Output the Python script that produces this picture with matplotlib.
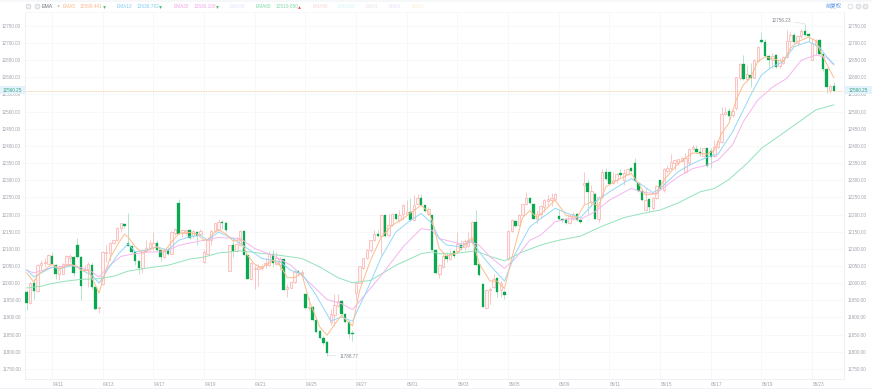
import numpy as np
import matplotlib
matplotlib.use("Agg")
import matplotlib.pyplot as plt
from matplotlib.lines import Line2D
from matplotlib.patches import Rectangle

plt.rcParams['font.family'] = ['Liberation Sans', 'Noto Sans CJK SC', 'DejaVu Sans']

W, H = 872, 389

# 4h candles
opens = [11974,11942,12000,11976,12053,12059,12057,12079,12053,12028,
         12028,12055,12072,12076,12110,12076,12037,12042,12052,11989,
         11927,11997,12088,12088,12118,12125,12162,12172,12117,12108,
         12091,12065,12044,12094,12101,12104,12117,12096,12076,12096,
         12086,12147,12234,12146,12146,12156,12137,12150,12144,12062,
         12086,12125,12152,12154,12177,12174,12036,12110,12093,12110,
         12151,12083,12013,12041,12042,12043,12052,12052,12086,12055,
         12052,12070,11983,11987,12003,12035,12028,11967,11928,11930,
         11892,11860,11841,11829,11887,11906,11932,11948,11911,11887,
         11855,11971,12000,12045,12072,12098,12125,12144,12138,12198,
         12140,12169,12201,12183,12201,12203,12208,12185,12230,12247,
         12227,12203,12198,12098,12028,12047,12079,12069,12094,12094,
         12111,12104,12108,12120,12179,12055,11997,11928,11981,11989,
         12015,11981,11975,12069,12152,12182,12169,12200,12230,12248,
         12230,12188,12201,12222,12240,12242,12244,12195,12188,12186,
         12174,12188,12201,12184,12286,12291,12237,12261,12188,12252,
         12323,12323,12291,12300,12320,12300,12317,12335,12349,12293,
         12269,12213,12245,12218,12247,12300,12271,12328,12335,12349,
         12351,12357,12325,12349,12390,12392,12382,12370,12393,12386,
         12370,12398,12412,12492,12502,12490,12510,12597,12638,12594,
         12608,12599,12649,12709,12704,12662,12650,12665,12633,12641,
         12658,12707,12724,12701,12721,12736,12725,12652,12694,12709,
         12668,12623,12563,12575]
closes = [11942,12000,11976,12053,12060,12062,12083,12055,12028,12042,
          12055,12078,12079,12030,12076,11992,12042,12055,11989,11926,
          11929,12091,12091,12118,12125,12162,12174,12166,12108,12091,
          12064,12045,12096,12101,12118,12118,12098,12076,12096,12086,
          12149,12159,12144,12156,12154,12132,12152,12138,12152,12091,
          12125,12152,12174,12179,12174,12156,12110,12093,12113,12152,
          12083,12013,12059,12044,12047,12051,12059,12086,12059,12072,
          12070,11981,11989,12003,12033,12031,12033,11928,11930,11892,
          11857,11841,11825,11797,11911,11935,11948,11911,11887,11853,
          11853,12000,12049,12072,12098,12125,12143,12138,12198,12138,
          12169,12201,12188,12198,12227,12208,12183,12227,12247,12227,
          12211,12215,12098,12030,12052,12079,12071,12086,12079,12114,
          12101,12123,12125,12179,12054,12023,11931,11981,11984,12013,
          11974,12001,11966,12152,12184,12167,12200,12230,12247,12234,
          12188,12201,12224,12242,12244,12247,12261,12188,12184,12176,
          12195,12201,12184,12178,12291,12266,12268,12188,12252,12324,
          12305,12289,12302,12318,12314,12320,12334,12328,12298,12269,
          12242,12242,12221,12247,12283,12273,12332,12336,12352,12359,
          12361,12364,12364,12391,12396,12382,12376,12393,12342,12369,
          12398,12415,12493,12500,12487,12502,12600,12638,12594,12610,
          12598,12651,12689,12703,12662,12650,12662,12631,12650,12658,
          12707,12724,12704,12721,12736,12723,12721,12699,12707,12667,
          12623,12571,12575,12560.25]
highs = [11979,12003,12013,12055,12067,12072,12086,12091,12055,12052,
         12059,12081,12084,12079,12133,12078,12052,12062,12062,11991,
         11930,12094,12110,12120,12127,12164,12176,12176,12205,12110,
         12093,12067,12099,12125,12127,12149,12125,12098,12101,12104,
         12152,12162,12244,12159,12156,12159,12156,12152,12159,12096,
         12127,12154,12176,12188,12183,12181,12112,12135,12135,12154,
         12153,12085,12061,12052,12055,12055,12072,12094,12096,12091,
         12076,12072,11997,12006,12037,12037,12037,11969,11960,11932,
         11894,11862,11845,11831,11925,11969,11967,11950,11913,11889,
         11862,12003,12051,12073,12100,12127,12154,12154,12201,12200,
         12201,12203,12203,12213,12230,12242,12247,12256,12259,12259,
         12229,12222,12200,12100,12055,12084,12091,12096,12098,12150,
         12127,12130,12150,12182,12213,12057,11999,11983,11989,12026,
         12018,12007,11981,12156,12187,12184,12203,12232,12265,12250,
         12232,12213,12227,12245,12257,12263,12263,12213,12191,12191,
         12201,12208,12205,12191,12323,12305,12286,12263,12254,12334,
         12337,12325,12325,12322,12334,12334,12337,12339,12364,12295,
         12271,12276,12247,12252,12286,12302,12335,12344,12376,12361,
         12363,12369,12380,12393,12403,12403,12398,12395,12395,12393,
         12417,12417,12514,12514,12510,12510,12602,12641,12665,12636,
         12641,12653,12691,12731,12711,12665,12670,12667,12655,12662,
         12738,12733,12728,12724,12740,12756.23,12728,12714,12711,12711,
         12670,12626,12581,12587]
lows = [11923,11940,11955,11975,12042,12049,12055,12052,12013,12008,
        12026,12052,12062,12020,12073,11950,12036,11989,11984,11923,
        11914,11994,12062,12067,12115,12123,12149,12162,12107,12088,
        12052,12026,12030,12091,12096,12096,12093,12064,12072,12081,
        12084,12140,12142,12135,12140,12129,12133,12110,12140,12059,
        12084,12110,12149,12152,12159,12149,12035,12076,12091,12108,
        12081,12011,12010,11984,11991,12037,12045,12049,12047,12052,
        12037,11979,11960,11985,12001,12023,12026,11926,11921,11890,
        11855,11838,11821,11788.77,11877,11874,11930,11908,11884,11841,
        11831,11950,11999,12042,12069,12091,12123,12135,12081,12135,
        12137,12166,12185,12179,12183,12201,12181,12183,12227,12225,
        12208,12198,12096,12028,12016,12045,12062,12067,12072,12091,
        12098,12096,12106,12115,12052,12020,11929,11925,11940,11987,
        11960,11960,11955,12067,12150,12164,12166,12197,12227,12232,
        12186,12176,12191,12208,12227,12224,12240,12184,12179,12172,
        12172,12184,12182,12176,12230,12203,12224,12186,12179,12249,
        12302,12286,12289,12291,12310,12286,12315,12325,12295,12266,
        12240,12212,12208,12213,12244,12271,12266,12320,12330,12330,
        12344,12354,12320,12344,12388,12380,12372,12369,12339,12335,
        12369,12393,12409,12489,12474,12485,12505,12592,12592,12590,
        12571,12597,12646,12699,12658,12626,12626,12626,12626,12639,
        12655,12680,12701,12694,12714,12721,12707,12650,12665,12665,
        12619,12555,12553,12558]

# moving averages, read at the bends of each line
ema5_idx = [0,2,3,7,9,12,14,15,17,18,20,21,23,25,27,28,30,32,34,36,38,40,42,44,47,49,50,52,53,55,57,59,61,63,65,68,70,72,74,76,78,81,83,85,87,90,92,95,98,101,104,106,109,111,112,114,116,119,123,125,128,130,132,134,137,139,141,146,149,152,154,156,158,160,164,167,169,171,174,176,180,184,188,190,192,194,196,198,200,202,204,207,209,211,213,216,218,220,223]
ema5 = [12030,12003,12023,12055,12042,12055,12049,12037,12037,12016,11971,12008,12072,12110,12143,12135,12106,12088,12098,12106,12091,12120,12144,12149,12144,12125,12127,12149,12156,12144,12123,12127,12081,12055,12045,12067,12052,12016,12016,12028,11950,11872,11848,11879,11906,11875,11979,12067,12135,12169,12188,12205,12227,12208,12183,12101,12079,12088,12133,12057,12006,12006,11984,12072,12191,12211,12191,12242,12198,12191,12227,12237,12223,12281,12305,12320,12291,12257,12261,12300,12349,12380,12376,12388,12437,12466,12534,12578,12599,12646,12660,12652,12646,12685,12704,12717,12707,12660,12598.441]
ema10_idx = [0,2,7,9,13,15,18,20,22,25,28,30,33,36,39,42,45,48,50,53,57,61,65,70,73,76,80,84,87,90,94,98,102,106,109,112,114,116,120,123,125,128,132,135,139,142,146,150,153,157,161,167,170,173,175,180,184,188,191,195,198,200,203,206,209,212,216,219,221,223]
ema10 = [12039,12018,12047,12042,12052,12039,12023,12000,12033,12081,12115,12091,12096,12106,12096,12125,12135,12140,12125,12149,12130,12101,12072,12062,12037,12028,11964,11890,11901,11889,11979,12076,12149,12183,12203,12174,12130,12111,12106,12125,12091,12052,12006,12086,12164,12188,12218,12201,12191,12237,12266,12305,12286,12264,12276,12325,12349,12367,12376,12441,12505,12548,12607,12631,12646,12689,12704,12689,12660,12638.782]
ema20_idx = [0,2,7,12,15,18,20,23,26,30,34,38,42,45,49,53,59,63,68,73,77,83,87,90,93,98,104,109,112,114,120,123,125,128,132,135,139,142,146,150,153,157,161,167,170,174,175,180,184,188,191,195,198,202,206,210,214,218,221,223]
ema20 = [12037,12030,12045,12052,12045,12033,12018,12052,12078,12086,12091,12091,12110,12117,12125,12133,12130,12101,12081,12052,12013,11952,11940,11923,11960,12023,12106,12159,12154,12130,12114,12120,12111,12077,12043,12072,12125,12140,12179,12188,12186,12208,12242,12276,12266,12260,12271,12310,12334,12344,12359,12403,12471,12534,12571,12597,12650,12665,12658,12636.100]
ema60_idx = [0,4,7,11,15,20,24,28,34,39,45,49,53,59,64,70,76,81,86,90,95,102,109,112,114,118,124,128,132,137,142,147,153,159,165,170,175,180,186,190,194,199,203,208,214,218,221,223]
ema60 = [11986,11991,11999,12006,12011,12013,12020,12035,12045,12052,12070,12076,12088,12094,12088,12081,12072,12047,12016,12001,12008,12052,12086,12091,12086,12086,12094,12078,12065,12091,12111,12125,12137,12166,12191,12203,12213,12234,12266,12276,12302,12349,12393,12430,12475,12505,12514,12519.650]

date_idx = [7,21,35,49,63,77,91,105,119,133,147,161,175,189,203,217]
date_labels = ["04/11","04/13","04/17","04/19","04/21","04/25","04/27","05/01",
               "05/03","05/05","05/09","05/11","05/15","05/17","05/19","05/23"]
price_ticks = list(range(11750, 12751, 50))
last_price = 12560.25
high_price = 12756.23
low_price = 11788.77

GREEN = "#0aa84f"
GREEN_WICK = "#a9dfc0"
RED = "#f8b0ad"
RED_FILL = "#fff4f3"
GREY = "#a0a4ab"
GRID = "#f6f7f9"
LINE = "#eceef2"


def fx(x):
    return x / W


def fy(y):
    return 1 - y / H


fig = plt.figure(figsize=(W / 100, H / 100), dpi=100)
ax = fig.add_axes([fx(25), fy(379), fx(844 - 25), (379 - 12) / H])
ax.set_xlim(-0.46, 225.8)
ax.set_ylim(11720.5, 12790.5)

for s in ["top"]:
    ax.spines[s].set_visible(False)
for s in ["left", "right", "bottom"]:
    ax.spines[s].set_color(LINE)
    ax.spines[s].set_linewidth(0.6)

ax.set_yticks(price_ticks)
ax.set_yticklabels(["%.2f" % p for p in price_ticks])
ax.set_xticks(date_idx)
ax.set_xticklabels([])
ax.tick_params(axis="y", length=0, labelsize=3.3, labelcolor=GREY, labelleft=True,
               labelright=True, pad=3)
ax.tick_params(axis="x", length=0)
ax.grid(color=GRID, linewidth=0.6)
ax.set_axisbelow(True)

for i, lab in zip(date_idx, date_labels):
    ax.annotate(lab, (i, 0), xycoords=("data", "axes fraction"), xytext=(4.4, -3.6),
                textcoords="offset points", ha="center", va="center",
                fontsize=3.3, color=GREY)

# candles
o = np.array(opens)
c = np.array(closes)
hi = np.array(highs)
lo = np.array(lows)
idx = np.arange(len(o))
up = c >= o
ax.vlines(idx[up], lo[up], hi[up], color=RED, linewidth=0.5, zorder=3)
ax.vlines(idx[~up], lo[~up], hi[~up], color=GREEN_WICK, linewidth=0.6, zorder=3)
ax.bar(idx[up], (c - o)[up], bottom=o[up], width=0.66, facecolor=RED_FILL, edgecolor=RED,
       linewidth=0.5, zorder=4)
ax.bar(idx[~up], (o - c)[~up], bottom=c[~up], width=0.68, facecolor=GREEN, edgecolor=GREEN,
       linewidth=0.2, zorder=4)

ax.plot(ema60_idx, ema60, color="#93e2ba", linewidth=0.7, zorder=5)
ax.plot(ema20_idx, ema20, color="#f5b5ef", linewidth=0.7, zorder=5)
ax.plot(ema10_idx, ema10, color="#93d8f8", linewidth=0.7, zorder=5)
ax.plot(ema5_idx, ema5, color="#fbbd8c", linewidth=0.7, zorder=5)

# last price line and its two labels
ax.axhline(last_price, color="#fbd3ae", linewidth=0.6, linestyle=(0, (2, 1)), zorder=6)
for x0, x1, tx in [(0, 25, 2.5), (845, 872, 849)]:
    fig.add_artist(Rectangle((fx(x0), fy(94)), fx(x1 - x0), 7.5 / H, transform=fig.transFigure,
                             facecolor="#e3f2fd", edgecolor="none", zorder=7))
    fig.text(fx(tx), fy(90.5), "%.2f" % last_price, fontsize=3.3, color="#33a77c",
             va="center", ha="left", zorder=8)

# extreme labels
ax.annotate("%.2f" % high_price, (215, high_price), xytext=(-10, 2.6), textcoords="offset points",
            fontsize=3.3, color="#7f848c", ha="right", va="center", zorder=8,
            arrowprops=dict(arrowstyle="-", color="#d5d8dc", linewidth=0.4, shrinkA=0.5, shrinkB=0))
ax.annotate("%.2f" % low_price, (83, low_price), xytext=(9, -0.5), textcoords="offset points",
            fontsize=3.3, color="#7f848c", ha="left", va="center", zorder=8,
            arrowprops=dict(arrowstyle="-", color="#d5d8dc", linewidth=0.4, shrinkA=0.5, shrinkB=0))

# header row
legend_names = [(63, "EMA5", "#fbb98a"), (117, "EMA10", "#84cdf3"), (174, "EMA20", "#f2a5ea"),
                (230, "EMA30", "#dfe6fb"), (256, "EMA60", "#82d9ab"), (313, "EMA90", "#fbd5d5"),
                (338, "EMA200", "#d3f5f8"), (366, "EMA1", "#e5e6ea"), (389, "EMA1", "#e9dffa"),
                (412, "EMA1", "#fbefd4")]
legend_vals = [(80, "12598.441", "#fbb98a"), (137, "12638.782", "#84cdf3"),
               (194, "12636.100", "#f2a5ea"), (276, "12519.650", "#82d9ab")]
legend_marks = [(104, "v", "#3dbb62"), (160, "v", "#3dbb62"), (217, "v", "#3dbb62"), (299, "^", "#ee4444")]

for x, t, col in legend_names + legend_vals:
    fig.text(fx(x), fy(6.5), t, fontsize=3.4, color=col, va="center", ha="left")
for x, m, col in legend_marks:
    fig.add_artist(Line2D([fx(x)], [fy(6.5)], marker=m, markersize=2, color=col,
                          markeredgewidth=0, transform=fig.transFigure))
fig.text(fx(42), fy(6), "EMA", fontsize=3.8, color="#6f737a", va="center", ha="left")
fig.add_artist(Line2D([fx(58)], [fy(6)], marker="v", markersize=1.8, color="#b9bcc2",
                      markeredgewidth=0, transform=fig.transFigure))
for x in [28, 37, 857.5, 865]:
    fig.add_artist(Line2D([fx(x)], [fy(6)], marker="o", markersize=3.6, markerfacecolor="#eceef1",
                          markeredgecolor="#c5c8cd", markeredgewidth=0.4, transform=fig.transFigure))
fig.add_artist(Line2D([fx(850)], [fy(6)], marker="o", markersize=3.6, markerfacecolor="white",
                      markeredgecolor="#c5c8cd", markeredgewidth=0.4, transform=fig.transFigure))
fig.text(fx(826), fy(6), "前复权", fontsize=3.9, color="#5b9be8", va="center", ha="left")

# pale strips at top and bottom of the page
fig.add_artist(Rectangle((0, fy(2)), 1, 2 / H, transform=fig.transFigure, facecolor="#f6f7f9", edgecolor="none"))
fig.add_artist(Rectangle((0, 0), 1, 1.5 / H, transform=fig.transFigure, facecolor="#f1f1fa", edgecolor="none"))
fig.add_artist(Line2D([fx(25), fx(844)], [fy(12), fy(12)], color=GRID, linewidth=0.6, transform=fig.transFigure))

plt.savefig("out.png", dpi=100)
